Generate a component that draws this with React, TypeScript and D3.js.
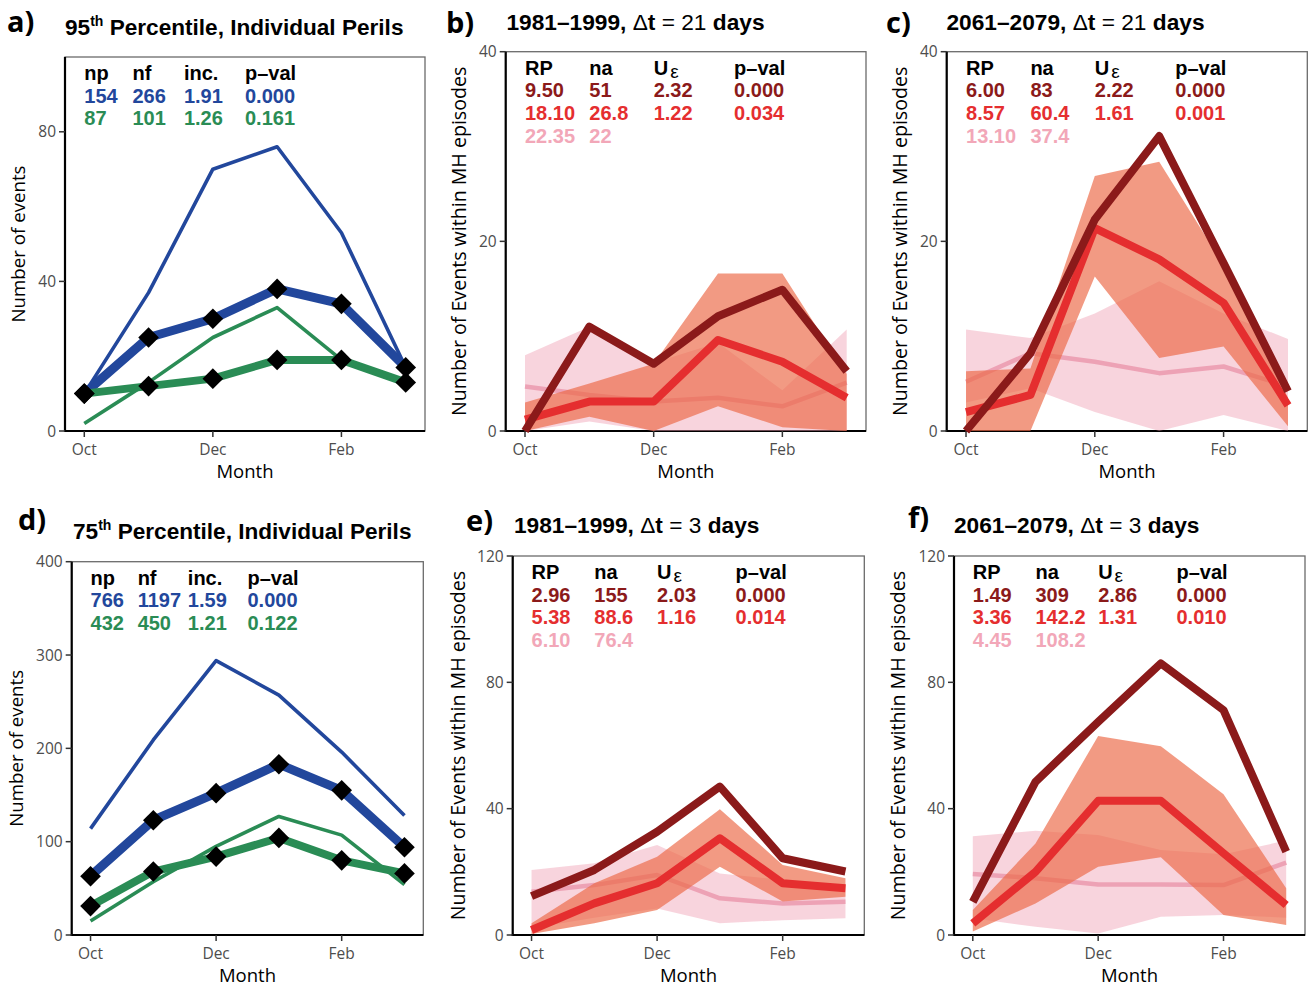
import React from 'react';
import * as d3 from 'd3';

// ---------- shared categories ----------
const months = ['Oct', 'Nov', 'Dec', 'Jan', 'Feb', 'Mar'];
const monthTickIdx = [0, 2, 4];

// ---------- panel a (95th percentile) ----------
const aBlueThin = [10, 37, 70, 76, 53, 17];
const aBlueThick = [10, 25, 30, 38, 34, 17];
const aGreenThin = [2, 13, 25, 33, 19, 13];
const aGreenThick = [10, 12, 14, 19, 19, 13];
const aTicks = [0, 40, 80];
const aHeader = ['np', 'nf', 'inc.', 'p–val'];
const aBlueStats = ['154', '266', '1.91', '0.000'];
const aGreenStats = ['87', '101', '1.26', '0.161'];

// ---------- panel d (75th percentile) ----------
const dBlueThin = [114, 209, 294, 257, 196, 128];
const dBlueThick = [63, 123, 152, 183, 155, 94];
const dGreenThin = [15, 57, 95, 127, 107, 54];
const dGreenThick = [31, 68, 84, 104, 80, 66];
const dTicks = [0, 100, 200, 300, 400];
const dBlueStats = ['766', '1197', '1.59', '0.000'];
const dGreenStats = ['432', '450', '1.21', '0.122'];

// ---------- panel b ----------
const bDark = [0, 11.0, 7.1, 12.1, 14.9, 6.3];
const bRed = [1.2, 3.1, 3.1, 9.6, 7.3, 3.5];
const bPink = [4.7, 3.8, 3.1, 3.5, 2.6, 5.1];
const bOrangeHi = [3.0, 5.0, 7.1, 16.6, 16.6, 6.0];
const bOrangeLo = [0, 1.5, 0, 2.6, 0.4, 0];
const bPinkHi = [8.0, 11.0, 7.2, 9.3, 4.3, 10.7];
const bPinkLo = [0, 1.0, 0, 0, 0, 0];
const bDarkStats = ['9.50', '51', '2.32', '0.000'];
const bRedStats = ['18.10', '26.8', '1.22', '0.034'];
const bPinkStats = ['22.35', '22'];

// ---------- panel c ----------
const cDark = [0, 8.2, 22.3, 31.1, 17.7, 4.2];
const cRed = [2.0, 3.8, 21.4, 18.1, 13.5, 2.7];
const cPink = [5.2, 8.2, 7.3, 6.1, 6.8, 4.7];
const cOrangeHi = [6.3, 6.6, 26.9, 28.4, 17.5, 3.5];
const cOrangeLo = [0, 0, 16.3, 7.7, 8.9, 0.5];
const cPinkHi = [10.7, 9.8, 12.4, 15.8, 12.4, 9.7];
const cPinkLo = [3.0, 4.5, 2.0, 0, 1.7, 0];
const cDarkStats = ['6.00', '83', '2.22', '0.000'];
const cRedStats = ['8.57', '60.4', '1.61', '0.001'];
const cPinkStats = ['13.10', '37.4'];

// ---------- panel e ----------
const eDark = [12.3, 20.6, 32.7, 47.0, 24.3, 20.1];
const eRed = [1.6, 10.0, 16.4, 30.6, 16.4, 14.8];
const ePink = [13.7, 15.8, 19.0, 11.6, 10.0, 10.5];
const eOrangeHi = [3.7, 16.4, 24.8, 39.8, 22.2, 18.0];
const eOrangeLo = [0.3, 3.7, 7.9, 21.6, 10.6, 12.1];
const ePinkHi = [20.6, 22.7, 28.5, 19.5, 17.4, 15.8];
const ePinkLo = [2.1, 5.5, 8.4, 3.7, 4.7, 5.3];
const eDarkStats = ['2.96', '155', '2.03', '0.000'];
const eRedStats = ['5.38', '88.6', '1.16', '0.014'];
const ePinkStats = ['6.10', '76.4'];

// ---------- panel f ----------
const fDark = [10.5, 48.5, 67.5, 86.0, 71.2, 26.4];
const fRed = [3.7, 20.0, 42.5, 42.5, 25.9, 9.5];
const fPink = [19.3, 18.0, 16.0, 16.0, 15.8, 22.9];
const fOrangeHi = [7.9, 29.0, 63.0, 59.8, 44.6, 14.8];
const fOrangeLo = [1.1, 10.0, 21.6, 24.6, 6.3, 3.2];
const fPinkHi = [31.3, 33.0, 31.7, 26.9, 25.6, 29.9];
const fPinkLo = [5.3, 2.6, 0.5, 5.8, 6.3, 5.5];
const fDarkStats = ['1.49', '309', '2.86', '0.000'];
const fRedStats = ['3.36', '142.2', '1.31', '0.010'];
const fPinkStats = ['4.45', '108.2'];

const mhTicks21 = [0, 20, 40];
const mhTicks3 = [0, 40, 80, 120];
const mhHeader = ['RP', 'na', 'U', 'p–val'];

// ---------- styles ----------
const BLUE = '#22479C';
const GREEN = '#2A8C55';
const DARK = '#8B1A1A';
const RED = '#E52E2F';
const PINK_TXT = '#F2A7B8';
const PINK_LINE = '#EDA2B5';
const PINK_FILL = '#EFA0B4';
const ORANGE_FILL = '#EC6A48';
const TITLE_FONT = "'Liberation Sans', Arial, Helvetica, sans-serif";
const AXIS_FONT = "'Open Sans', 'Liberation Sans', sans-serif";
const LETTER_FONT = "'Open Sans', sans-serif";

type Box = { L: number; T: number; R: number; B: number };

function makeScales(box: Box, ymax: number) {
  const x = d3.scaleLinear().domain([-0.3, 5.3]).range([box.L, box.R]);
  const y = d3.scaleLinear().domain([0, ymax]).range([box.B, box.T]);
  return { x, y };
}

function Frame({ box, x, y, ticks, yTitle, titleOff, titleSize }: any) {
  return (
    <g>
      <rect x={box.L} y={box.T} width={box.R - box.L} height={box.B - box.T} fill="none" stroke="#6b6b6b" strokeWidth={1.3} />
      <line x1={box.L} x2={box.L} y1={box.T} y2={box.B + 1} stroke="#000" strokeWidth={2.2} />
      <line x1={box.L - 1} x2={box.R} y1={box.B} y2={box.B} stroke="#000" strokeWidth={2.2} />
      {ticks.map((t: number) => (
        <g key={'y' + t}>
          <line x1={box.L - 6} x2={box.L} y1={y(t)} y2={y(t)} stroke="#333" strokeWidth={1.5} />
          <text x={box.L - 9} y={y(t) + 5.5} textAnchor="end" fontSize={15.5} fill="#4d4d4d" fontFamily={AXIS_FONT}>{t}</text>
        </g>
      ))}
      {monthTickIdx.map((i) => (
        <g key={'x' + i}>
          <line x1={x(i)} x2={x(i)} y1={box.B} y2={box.B + 6} stroke="#333" strokeWidth={1.5} />
          <text x={x(i)} y={box.B + 23.5} textAnchor="middle" fontSize={15.5} fill="#4d4d4d" fontFamily={AXIS_FONT}>{months[i]}</text>
        </g>
      ))}
      <text x={(box.L + box.R) / 2} y={box.B + 47} textAnchor="middle" fontSize={18.5} fill="#000" fontFamily={AXIS_FONT}>Month</text>
      <text transform={`translate(${box.L - titleOff},${(box.T + box.B) / 2}) rotate(-90)`} textAnchor="middle" fontSize={titleSize} fill="#000" fontFamily={AXIS_FONT}>{yTitle}</text>
    </g>
  );
}

function PerilPanel({ box, ymax, ticks, blueThin, blueThick, greenThin, greenThick, blueStats, greenStats, titleOff }: any) {
  const { x, y } = makeScales(box, ymax);
  const line = d3.line<number>().x((_, i) => x(i)).y((d) => y(d));
  const diamond = (v: number, i: number, k: string) => (
    <rect key={k} x={-7.3} y={-7.3} width={14.6} height={14.6} fill="#000" transform={`translate(${x(i)},${y(v)}) rotate(45)`} />
  );
  const cols = [0, 0.75, 1.55, 2.5];
  const row = (vals: string[], color: string, r: number) =>
    vals.map((v, j) => (
      <text key={r + '-' + j} x={x(cols[j])} y={box.T + 23 + r * 22.7} fontSize={20} fontWeight="bold" fill={color} fontFamily={TITLE_FONT}>{v}</text>
    ));
  return (
    <g>
      <Frame box={box} x={x} y={y} ticks={ticks} yTitle="Number of events" titleOff={titleOff} titleSize={18.7} />
      <path d={line(blueThick) || ''} fill="none" stroke={BLUE} strokeWidth={9} strokeLinejoin="round" />
      <path d={line(greenThick) || ''} fill="none" stroke={GREEN} strokeWidth={8} strokeLinejoin="round" />
      <path d={line(blueThin) || ''} fill="none" stroke={BLUE} strokeWidth={3.6} strokeLinejoin="round" />
      <path d={line(greenThin) || ''} fill="none" stroke={GREEN} strokeWidth={3.6} strokeLinejoin="round" />
      {blueThick.map((v: number, i: number) => diamond(v, i, 'b' + i))}
      {greenThick.map((v: number, i: number) => diamond(v, i, 'g' + i))}
      {row(aHeader, '#000', 0)}
      {row(blueStats, BLUE, 1)}
      {row(greenStats, GREEN, 2)}
    </g>
  );
}

function MHPanel({ box, ymax, ticks, dark, red, pink, oHi, oLo, pHi, pLo, darkStats, redStats, pinkStats, titleOff }: any) {
  const { x, y } = makeScales(box, ymax);
  const line = d3.line<number>().x((_, i) => x(i)).y((d) => y(d));
  const band = (hi: number[], lo: number[]) =>
    d3.area<number>().x((_, i) => x(i)).y0((_, i) => y(lo[i])).y1((d) => y(d))(hi) || '';
  const cols = [0, 1, 2, 3.25];
  const rowY = (r: number) => box.T + 23 + r * 22.7;
  const row = (vals: string[], color: string, r: number) =>
    vals.map((v, j) => (
      <text key={r + '-' + j} x={x(cols[j])} y={rowY(r)} fontSize={20} fontWeight="bold" fill={color} fontFamily={TITLE_FONT}>{v}</text>
    ));
  return (
    <g>
      <Frame box={box} x={x} y={y} ticks={ticks} yTitle="Number of Events within MH episodes" titleOff={titleOff} titleSize={19.6} />
      <path d={band(pHi, pLo)} fill={PINK_FILL} fillOpacity={0.45} />
      <path d={line(pink) || ''} fill="none" stroke={PINK_LINE} strokeWidth={4.5} strokeLinejoin="round" />
      <path d={band(oHi, oLo)} fill={ORANGE_FILL} fillOpacity={0.68} />
      <path d={line(red) || ''} fill="none" stroke={RED} strokeWidth={8} strokeLinejoin="round" />
      <path d={line(dark) || ''} fill="none" stroke={DARK} strokeWidth={8} strokeLinejoin="round" />
      {mhHeader.map((h, j) => (
        <text key={'h' + j} x={x(cols[j])} y={rowY(0)} fontSize={20} fontWeight="bold" fill="#000" fontFamily={TITLE_FONT}>
          {h}
          {h === 'U' ? <tspan fontWeight="normal" dx={2} dy={3} fontSize={19}>ε</tspan> : null}
        </text>
      ))}
      {row(darkStats, DARK, 1)}
      {row(redStats, RED, 2)}
      {row(pinkStats, PINK_TXT, 3)}
    </g>
  );
}

const boxA: Box = { L: 65, T: 57, R: 425, B: 431 };
const boxB: Box = { L: 505.7, T: 51.7, R: 866, B: 431 };
const boxC: Box = { L: 946.7, T: 51.7, R: 1307.3, B: 431 };
const boxD: Box = { L: 71.7, T: 561.7, R: 423.3, B: 935 };
const boxE: Box = { L: 512.7, T: 556, R: 864.3, B: 935 };
const boxF: Box = { L: 954, T: 556, R: 1305, B: 935 };

function Letter({ x, y, s }: { x: number; y: number; s: string }) {
  return <text x={x} y={y} fontSize={29} fontWeight="bold" fontFamily={LETTER_FONT}>{s}</text>;
}

function PeriodTitle({ x, y, period, dt }: { x: number; y: number; period: string; dt: string }) {
  return (
    <text x={x} y={y} fontSize={22.7} fontWeight="bold" fontFamily={TITLE_FONT}>
      {period + ', '}
      <tspan fontWeight="normal">Δ</tspan>t
      <tspan fontWeight="normal">{' = ' + dt + ' '}</tspan>
      days
    </text>
  );
}

function PercTitle({ x, y, p }: { x: number; y: number; p: string }) {
  return (
    <text x={x} y={y} fontSize={22.6} fontWeight="bold" fontFamily={TITLE_FONT}>
      {p}
      <tspan dy={-9.5} fontSize={14}>th</tspan>
      <tspan dy={9.5}> Percentile, Individual Perils</tspan>
    </text>
  );
}

export default function App() {
  return (
    <svg width={1313} height={989} style={{ position: 'absolute', left: 0, top: 0, background: '#fff' }}>
      <rect width={1313} height={989} fill="#fff" />
      <Letter x={7} y={32} s="a)" />
      <PercTitle x={65} y={35} p="95" />
      <Letter x={446} y={33} s="b)" />
      <PeriodTitle x={506.5} y={29.5} period="1981–1999" dt="21" />
      <Letter x={886} y={33} s="c)" />
      <PeriodTitle x={946.5} y={29.5} period="2061–2079" dt="21" />
      <Letter x={18} y={530} s="d)" />
      <PercTitle x={73} y={539} p="75" />
      <Letter x={466} y={531} s="e)" />
      <PeriodTitle x={514} y={533} period="1981–1999" dt="3" />
      <Letter x={908} y={528} s="f)" />
      <PeriodTitle x={954} y={533} period="2061–2079" dt="3" />

      <PerilPanel box={boxA} ymax={100} ticks={aTicks} blueThin={aBlueThin} blueThick={aBlueThick} greenThin={aGreenThin} greenThick={aGreenThick} blueStats={aBlueStats} greenStats={aGreenStats} titleOff={40} />
      <PerilPanel box={boxD} ymax={400} ticks={dTicks} blueThin={dBlueThin} blueThick={dBlueThick} greenThin={dGreenThin} greenThick={dGreenThick} blueStats={dBlueStats} greenStats={dGreenStats} titleOff={48.5} />
      <MHPanel box={boxB} ymax={40} ticks={mhTicks21} dark={bDark} red={bRed} pink={bPink} oHi={bOrangeHi} oLo={bOrangeLo} pHi={bPinkHi} pLo={bPinkLo} darkStats={bDarkStats} redStats={bRedStats} pinkStats={bPinkStats} titleOff={39.5} />
      <MHPanel box={boxC} ymax={40} ticks={mhTicks21} dark={cDark} red={cRed} pink={cPink} oHi={cOrangeHi} oLo={cOrangeLo} pHi={cPinkHi} pLo={cPinkLo} darkStats={cDarkStats} redStats={cRedStats} pinkStats={cPinkStats} titleOff={39.5} />
      <MHPanel box={boxE} ymax={120} ticks={mhTicks3} dark={eDark} red={eRed} pink={ePink} oHi={eOrangeHi} oLo={eOrangeLo} pHi={ePinkHi} pLo={ePinkLo} darkStats={eDarkStats} redStats={eRedStats} pinkStats={ePinkStats} titleOff={48} />
      <MHPanel box={boxF} ymax={120} ticks={mhTicks3} dark={fDark} red={fRed} pink={fPink} oHi={fOrangeHi} oLo={fOrangeLo} pHi={fPinkHi} pLo={fPinkLo} darkStats={fDarkStats} redStats={fRedStats} pinkStats={fPinkStats} titleOff={49} />
    </svg>
  );
}
